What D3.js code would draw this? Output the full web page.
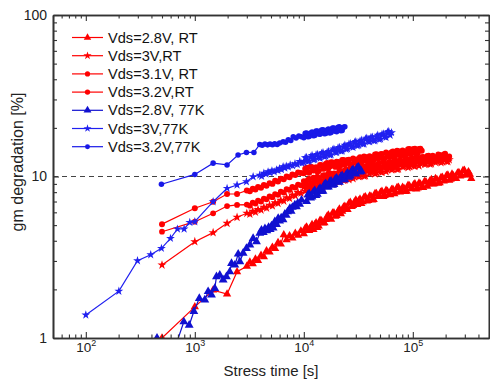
<!DOCTYPE html>
<html><head><meta charset="utf-8">
<script src="https://cdn.jsdelivr.net/npm/d3@7"></script>
<style>body{margin:0;background:#fff;} svg{display:block;font-family:"Liberation Sans",Arial,Helvetica,sans-serif;}</style>
</head><body><svg id="c" width="490" height="381"></svg>
<script>
// ---------- data ----------
const denseTimes = [10000,10600,11200,11900,12600,13300,14100,15000,15900,16800,17800,18900,20000,21200,22500,23800,25200,26700,28300,30000,31800,33700,35700,37800,40100,42500,45000,47700,50600,53600,56800,60200,63800,67600,71700,76000,80500,85300,90400,95800,101500,107600,114000,120800,128000,135700,143800,152400,161500,171200,181400,192200,203700,215900,228800,242500,257000,272300,288600,305800,324100,343500];
const denseTimesB = [10300,10900,11550,12250,12950,13700,14550,15450,16350,17300,18350,19450,20600,21850,23150,24500,25950,27500,29150,30900,32750,34700,36750,38950,41300,43750,46350,49150,52100,55200,58500,62000,65700,69650,73850,78250,82900,87850,93100,98650,104550,110800,117400,124400,131850,139750,148100,156950,166350,176300,186800,197950,209800,222350,235650,249750,264650,280450,297200,314950,333800];

const legendLabels = ["Vds=2.8V, RT","Vds=3V,RT","Vds=3.1V, RT","Vds=3.2V,RT","Vds=2.8V, 77K","Vds=3V,77K","Vds=3.2V,77K"];
const xTickLabels = ["2","3","4","5"];
const yTickLabels = ["1","10","100"];

const rtTimes = [500,1000,1472,1977,2441,3000,3200,3400,3600,3800,4050,4300,4550,4850,5150,5450,5800,6150,6550,6950,7400,7850,8350,8850,9400];

// Vds=2.8V, RT
const rt28V = [1.0,1.56,1.98,1.87,2.57,2.78,2.95,2.88,3.08,3.02,3.25,3.18,3.47,3.40,3.65,3.58,3.90,3.82,4.35,4.05,4.30,4.15,4.45,4.32,4.60];
const rt28Dense = [4.42,4.87,4.62,5.04,5.03,4.82,5.36,5.14,5.40,5.77,5.42,5.95,5.72,6.29,6.08,6.54,6.24,6.92,6.60,7.16,7.07,6.80,7.44,7.03,7.57,7.15,7.85,7.50,7.98,7.51,8.22,7.76,8.31,7.80,8.53,8.02,8.58,8.06,8.81,8.38,8.88,8.35,9.12,8.58,9.31,8.69,9.42,8.97,9.72,9.07,9.84,9.36,10.14,9.46,10.35,9.75,10.51,10.04,10.87,10.23,10.71,9.70];
const rt28DenseB = [4.78,4.63,4.85,4.69,5.17,4.93,5.32,5.16,5.67,5.54,5.94,5.66,6.09,5.88,6.46,6.29,6.83,6.52,6.94,6.69,7.25,6.97,7.49,7.08,7.55,7.20,7.83,7.62,8.09,7.62,8.11,7.71,8.34,8.00,8.56,8.05,8.44,8.09,8.77,8.41,9.01,8.47,8.99,8.54,9.27,9.01,9.57,9.02,9.59,9.12,9.89,9.51,10.19,9.60,10.10,9.72,10.58,10.19,10.92,10.20,10.30];
const rt28Start = 0;

// Vds=3V, RT
const rt30V = [2.83,3.95,4.49,5.13,5.59,5.92,5.85,6.10,6.02,6.25,6.20,6.45,6.38,6.65,6.58,6.88,6.82,7.12,7.05,7.40,7.32,7.68,7.60,7.95,7.88];
const rt30Dense = [8.63,8.57,8.16,8.94,8.44,8.71,9.26,8.64,9.37,8.92,9.67,9.21,9.79,9.22,10.09,9.51,10.20,10.10,9.70,10.61,9.97,10.68,10.04,10.97,10.43,11.05,10.39,11.35,10.67,11.41,10.72,11.71,11.01,11.78,11.06,12.06,11.47,12.12,11.37,12.39,11.62,12.53,11.64,12.57,11.91,12.85,11.94,12.90,12.22,13.16,12.19,13.01,12.42,12.70];
const rt30DenseB = [8.10,8.79,8.38,8.91,8.40,9.03,8.68,9.41,9.06,9.53,8.98,9.73,9.36,10.04,9.46,9.95,9.55,10.35,9.95,10.65,10.02,10.63,10.08,10.92,10.57,11.21,10.53,11.18,10.60,11.45,11.00,11.75,11.06,11.59,11.10,12.00,11.51,12.27,11.52,12.18,11.54,12.44,12.04,12.73,11.95,12.65,11.98,12.94,12.37,13.19,12.34,13.04,12.37];
const rt30Start = 0;

// Vds=3.1V, RT
const rt31V = [4.55,5.25,5.92,6.56,6.67,6.70,6.60,6.90,6.80,7.08,7.00,7.30,7.22,7.52,7.45,7.78,7.70,8.05,7.95,8.35,8.25,8.62,8.52,8.92,8.82];
const rt31Dense = [9.37,8.83,9.67,9.12,9.31,9.98,9.31,10.15,9.65,10.45,9.74,10.46,10.04,10.87,10.13,10.97,10.51,11.23,10.44,11.28,10.72,11.56,10.75,11.64,11.27,11.91,11.09,11.97,11.35,12.25,11.38,12.28,11.64,12.56,11.91,12.59,11.81,12.88,12.08,12.90,12.10,13.16,12.34,13.18,12.35,13.44,12.61,13.45,12.60,13.71,12.85,13.70,12.95,13.30];
const rt31DenseB = [8.97,9.53,8.98,9.83,9.26,9.84,9.39,10.20,9.80,10.50,9.89,10.40,9.98,10.82,10.39,11.11,10.44,11.06,10.48,11.33,10.97,11.61,10.91,11.57,10.96,11.85,11.35,12.13,11.39,11.94,11.40,12.32,11.80,12.60,11.81,12.51,11.85,12.79,12.36,13.06,12.24,12.93,12.25,13.21,12.63,13.48,12.64,13.22,12.62,13.62,13.01,13.85,13.05];
const rt31Start = 0;

// Vds=3.2V, RT
const rt32V = [5.07,6.36,6.98,7.79,7.79,8.20,8.10,8.40,8.30,8.62,8.52,8.85,8.75,9.10,9.00,9.40,9.30,9.70,9.60,10.00,9.90,10.30,10.20,10.60,10.50];
const rt32Dense = [10.48,11.34,10.56,11.43,11.15,10.75,11.80,11.16,11.95,11.23,12.27,11.66,12.36,11.60,12.64,11.85,12.67,11.88,12.95,12.17,12.87,12.19,13.29,12.46,13.34,12.53,13.68,12.99,13.75,12.91,14.09,13.24,14.13,13.25,14.44,13.53,14.47,13.56,14.77,13.87,14.81,13.87,14.81,14.45];
const rt32DenseB = [11.18,10.62,11.49,10.90,11.40,10.83,11.76,11.20,12.12,11.52,12.21,11.47,12.28,11.76,12.67,12.14,12.71,11.92,12.75,12.20,13.17,12.49,13.20,12.38,13.13,12.71,13.73,13.03,13.80,12.96,13.87,13.27,14.31,13.56,14.34,13.44,14.22,13.74,14.82,14.05,14.85,13.90,14.85];
const rt32Start = 0;

// Vds=2.8V, 77K
const k28T = [450,650,793,888,980,1100,1235,1325,1422,1525,1580,1695,1820,1950,2093,2170,2330,2500,2590,2775,2976,3200,3428,3680,3944,4090,4250,4400,4580,4750,4920,5050,5230,5420,5620,5820,6000,6200,6450,6700,6900,7100,7450,7650,7850,8270,8550,8800,9150,9530];
const k28V = [1.0,0.85,1.26,1.2,1.46,1.76,1.72,1.94,1.85,2.03,2.4,2.45,2.29,2.4,2.57,2.9,2.83,3.31,2.97,3.35,3.59,3.77,4.14,3.95,4.45,4.66,4.50,4.75,4.62,4.85,4.70,4.95,4.80,5.25,5.05,5.51,5.30,5.55,5.40,5.85,5.75,6.05,6.36,6.10,6.45,6.67,6.50,6.85,6.75,7.15];
const k28Dense = [7.01,7.80,7.47,8.18,7.76,8.45,8.11,9.05,8.63,9.37,8.93,9.78,9.22,10.14,9.57,10.51,10.09,11.02,10.37,11.44,10.78];
const k28DenseB = [7.70,7.37,8.01,7.62,8.26,8.07,8.92,8.62,9.27,8.83,9.63,9.26,10.00,9.56,10.28,9.89,10.82,10.49,11.34,10.67];
const k28Start = 1;

// Vds=3V, 77K
const k30T = [100,201,298,394,494,598,693,798,899,1000,1472,1977,2441,2976,3428,3944,4100,4300,4500,4700,4900,5100,5350,5620,5800,6000,6230,6460,6700,6900,7200,7500,7900,8300,8700,9190,9600];
const k30V = [1.39,1.95,3.01,3.28,3.59,4.14,4.73,4.73,5.2,5.25,6.98,8.45,8.86,9.29,9.97,10.2,10.05,10.5,10.35,10.7,10.55,10.85,10.7,11.0,10.9,11.2,11.05,11.5,11.3,11.6,11.45,11.8,11.65,12.0,11.85,12.4,12.1];
const k30Dense = [12.22,13.13,12.45,13.51,12.76,13.70,12.98,14.08,13.34,14.32,13.61,14.80,14.07,15.14,14.38,15.63,14.84,15.97,15.15,16.46,15.62,16.79,15.92,17.28,16.39,17.56,16.65,18.01,17.07,18.39,17.47,19.04,18.70];
const k30DenseB = [13.06,12.44,13.24,12.71,13.62,13.11,13.93,13.27,14.10,13.58,14.63,14.11,15.04,14.36,15.30,14.74,15.86,15.29,16.27,15.52,16.52,15.91,17.10,16.46,17.49,16.64,17.67,16.98,18.25,17.62,18.80,17.99];
const k30Start = 0;

// Vds=3.2V, 77K
const k32T = [494,1000,1472,1977,2494,2976,3485,3944,4150,4400,4650,4900,5150,5400,5700,6000,6460,6800,7200,7600,8000,8500,9000,9500];
const k32V = [8.95,10.3,12.1,11.8,13.6,14.1,14.1,15.8,15.6,15.9,15.7,15.9,15.75,15.95,15.8,16.1,16.4,16.3,16.9,16.7,17.6,17.3,17.8,17.6];
const k32Dense = [17.4,18.6,17.7,18.85,17.95,19.15,18.25,19.45,18.45,19.65,18.7,19.95,18.9,20.3,19.3,20.3];
const k32DenseB = [18.54,17.61,18.62,17.85,19.11,18.33,19.42,18.38,19.43,18.62,19.93,19.06,20.19,19.21,20.2];
const k32Start = 0;

// ---------- build ----------
function build(T, V, dense, denseB, start) {
  const pts = T.map((t, i) => [t, V[i]]);
  const tail = [];
  dense.forEach((v, i) => tail.push([denseTimes[start + i], v]));
  denseB.forEach((v, i) => tail.push([denseTimesB[start + i], v]));
  tail.sort((a, b) => a[0] - b[0]);
  return pts.concat(tail);
}
const RED = "#ff0000";
const series = [
  {label: legendLabels[0], data: build(rtTimes, rt28V, rt28Dense, rt28DenseB, rt28Start), color: RED, sym: d3.symbolTriangle, size: 30},
  {label: legendLabels[1], data: build(rtTimes, rt30V, rt30Dense, rt30DenseB, rt30Start), color: RED, sym: d3.symbolStar, size: 26},
  {label: legendLabels[2], data: build(rtTimes, rt31V, rt31Dense, rt31DenseB, rt31Start), color: RED, sym: d3.symbolCircle, size: 26},
  {label: legendLabels[3], data: build(rtTimes, rt32V, rt32Dense, rt32DenseB, rt32Start), color: RED, sym: d3.symbolCircle, size: 28},
  {label: legendLabels[4], data: build(k28T, k28V, k28Dense, k28DenseB, k28Start), color: "#1010d0", sym: d3.symbolTriangle, size: 34},
  {label: legendLabels[5], data: build(k30T, k30V, k30Dense, k30DenseB, k30Start), color: "#2020f0", sym: d3.symbolStar, size: 24},
  {label: legendLabels[6], data: build(k32T, k32V, k32Dense, k32DenseB, k32Start), color: "#1818e8", sym: d3.symbolCircle, size: 24}
];

const svg = d3.select("#c");
const L = 53, R = 489, T0 = 15, B = 338;
const x = d3.scaleLog().domain([50, 5e5]).range([L, R]);
const y = d3.scaleLog().domain([1, 100]).range([B, T0]);

svg.append("defs").append("clipPath").attr("id", "clip")
  .append("rect").attr("x", L).attr("y", T0).attr("width", R - L).attr("height", B - T0);

// dashed reference line at 10 %
svg.append("line").attr("x1", L).attr("x2", R).attr("y1", y(10)).attr("y2", y(10))
  .attr("stroke", "#444").attr("stroke-width", 1).attr("stroke-dasharray", "5,4");

const plot = svg.append("g").attr("clip-path", "url(#clip)");
const line = d3.line().x(d => x(d[0])).y(d => y(d[1]));
series.forEach(s => {
  plot.append("path").attr("d", line(s.data)).attr("fill", "none")
    .attr("stroke", s.color).attr("stroke-width", 1.2);
  plot.selectAll(null).data(s.data).enter().append("path")
    .attr("d", d3.symbol().type(s.sym).size(s.size))
    .attr("transform", d => `translate(${x(d[0])},${y(d[1])})`)
    .attr("fill", s.color);
});

// ---------- axes ----------
const xMajor = [1e2, 1e3, 1e4, 1e5];
const xMinor = [];
[10, 100, 1000, 10000, 100000].forEach(d => { for (let k = 2; k <= 9; k++) { const v = d * k; if (v >= 50 && v <= 5e5) xMinor.push(v); } });
const yMajor = [1, 10, 100];
const yMinor = [];
[1, 10].forEach(d => { for (let k = 2; k <= 9; k++) yMinor.push(d * k); });

const axCol = "#333";
function styleAxis(g) {
  g.select(".domain").attr("stroke", axCol).attr("stroke-width", 1.6);
  g.selectAll(".tick line").attr("stroke", axCol).attr("stroke-width", 1.1);
}
// bottom
svg.append("g").attr("transform", `translate(0,${B})`)
  .call(d3.axisBottom(x).tickValues(xMinor).tickSize(-3.5).tickSizeOuter(0).tickFormat(""))
  .call(styleAxis);
const xb = svg.append("g").attr("transform", `translate(0,${B})`)
  .call(d3.axisBottom(x).tickValues(xMajor).tickSize(-6).tickSizeOuter(0).tickPadding(4))
  .call(styleAxis);
xb.selectAll(".tick text").each(function(d, i) {
  const t = d3.select(this);
  t.text(null).attr("font-size", 13.5).attr("fill", "#222").attr("font-family", "Liberation Sans, Arial, sans-serif");
  t.append("tspan").text("10");
  t.append("tspan").text(xTickLabels[i]).attr("font-size", 9).attr("dy", "-0.6em");
});
// top
svg.append("g").attr("transform", `translate(0,${T0})`)
  .call(d3.axisTop(x).tickValues(xMinor).tickSize(-3.5).tickSizeOuter(0).tickFormat(""))
  .call(styleAxis);
svg.append("g").attr("transform", `translate(0,${T0})`)
  .call(d3.axisTop(x).tickValues(xMajor).tickSize(-6).tickSizeOuter(0).tickFormat(""))
  .call(styleAxis);
// left
svg.append("g").attr("transform", `translate(${L},0)`)
  .call(d3.axisLeft(y).tickValues(yMinor).tickSize(-4).tickSizeOuter(0).tickFormat(""))
  .call(styleAxis);
const yl = svg.append("g").attr("transform", `translate(${L},0)`)
  .call(d3.axisLeft(y).tickValues(yMajor).tickSize(-6).tickSizeOuter(0).tickPadding(6)
    .tickFormat((d, i) => yTickLabels[i]))
  .call(styleAxis);
yl.selectAll(".tick text").attr("font-size", 14).attr("fill", "#222").attr("font-family", "Liberation Sans, Arial, sans-serif");
// right
svg.append("g").attr("transform", `translate(${R},0)`)
  .call(d3.axisRight(y).tickValues(yMinor).tickSize(-4).tickSizeOuter(0).tickFormat(""))
  .call(styleAxis);
svg.append("g").attr("transform", `translate(${R},0)`)
  .call(d3.axisRight(y).tickValues(yMajor).tickSize(-6).tickSizeOuter(0).tickFormat(""))
  .call(styleAxis);

// axis titles
svg.append("text").attr("x", (L + R) / 2).attr("y", 376).attr("text-anchor", "middle")
  .attr("font-size", 15).attr("fill", "#222").text("Stress time [s]");
svg.append("text").attr("transform", `translate(23,162) rotate(-90)`)
  .attr("text-anchor", "middle").attr("font-size", 16).attr("fill", "#222").text("gm degradation [%]");

// ---------- legend ----------
const lg = svg.append("g");
series.forEach((s, i) => {
  const yy = 37.5 + i * 18.2;
  lg.append("line").attr("x1", 72).attr("x2", 103).attr("y1", yy).attr("y2", yy)
    .attr("stroke", s.color).attr("stroke-width", 1.2);
  lg.append("path").attr("d", d3.symbol().type(s.sym).size(s.size * 0.8)())
    .attr("transform", `translate(87.5,${yy})`).attr("fill", s.color);
  lg.append("text").attr("x", 108).attr("y", yy).attr("dy", "0.35em")
    .attr("font-size", 14.6).attr("fill", "#111").text(s.label);
});
</script></body></html>
